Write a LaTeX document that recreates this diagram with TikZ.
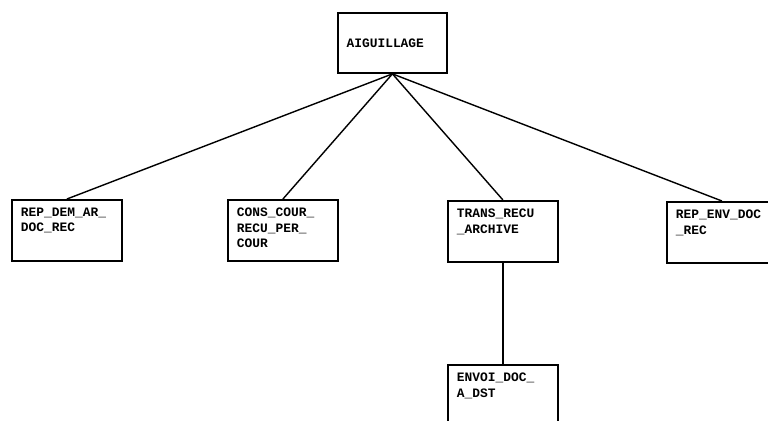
\documentclass[tikz,border=0pt]{standalone}
\usepackage{fontspec}
\newfontfamily\printfont{Liberation Mono}
\usetikzlibrary{positioning}

\begin{document}
\begin{tikzpicture}[
    x=0.03cm, y=-0.03cm,
    font=\printfont\bfseries\fontsize{11}{13}\selectfont,
    box/.style={draw, line width=1.6pt, anchor=north west, align=left,
        inner xsep=0.27cm, inner ysep=0.25cm},
    topbox/.style={draw, line width=1.6pt, anchor=north west,
        minimum width=3.27cm, minimum height=1.8cm, text width=2.75cm,
        align=left, inner xsep=0.25cm},
    link/.style={line width=1.2pt}
]
\useasboundingbox (0,0) rectangle (768,420);

% ── Root ───────────────────────────────────────────────────
\node[topbox] (aig) at (337,12) {AIGUILLAGE};

% ── Children ───────────────────────────────────────────────
\node[box] (rdem) at (11,199)
    {\parbox[t][1.33cm][t]{2.76cm}{REP\_DEM\_AR\_\\DOC\_REC}};
\node[box] (cons) at (227,199)
    {\parbox[t][1.33cm][t]{2.76cm}{CONS\_COUR\_\\RECU\_PER\_\\COUR}};
\node[box] (trans) at (447,200)
    {\parbox[t][1.33cm][t]{2.76cm}{TRANS\_RECU\\\_ARCHIVE}};
\node[box] (renv) at (666,201)
    {\parbox[t][1.33cm][t]{2.76cm}{REP\_ENV\_DOC\\\_REC}};

% ── Grandchild ─────────────────────────────────────────────
\node[box] (envoi) at (447,364)
    {\parbox[t][1.33cm][t]{2.76cm}{ENVOI\_DOC\_\\A\_DST}};

% ── Links ──────────────────────────────────────────────────
\foreach \c in {rdem, cons, trans, renv}
    \draw[link] (aig.south) -- (\c.north);
\draw[link] (trans.south) -- (envoi.north);

\end{tikzpicture}
\end{document}
